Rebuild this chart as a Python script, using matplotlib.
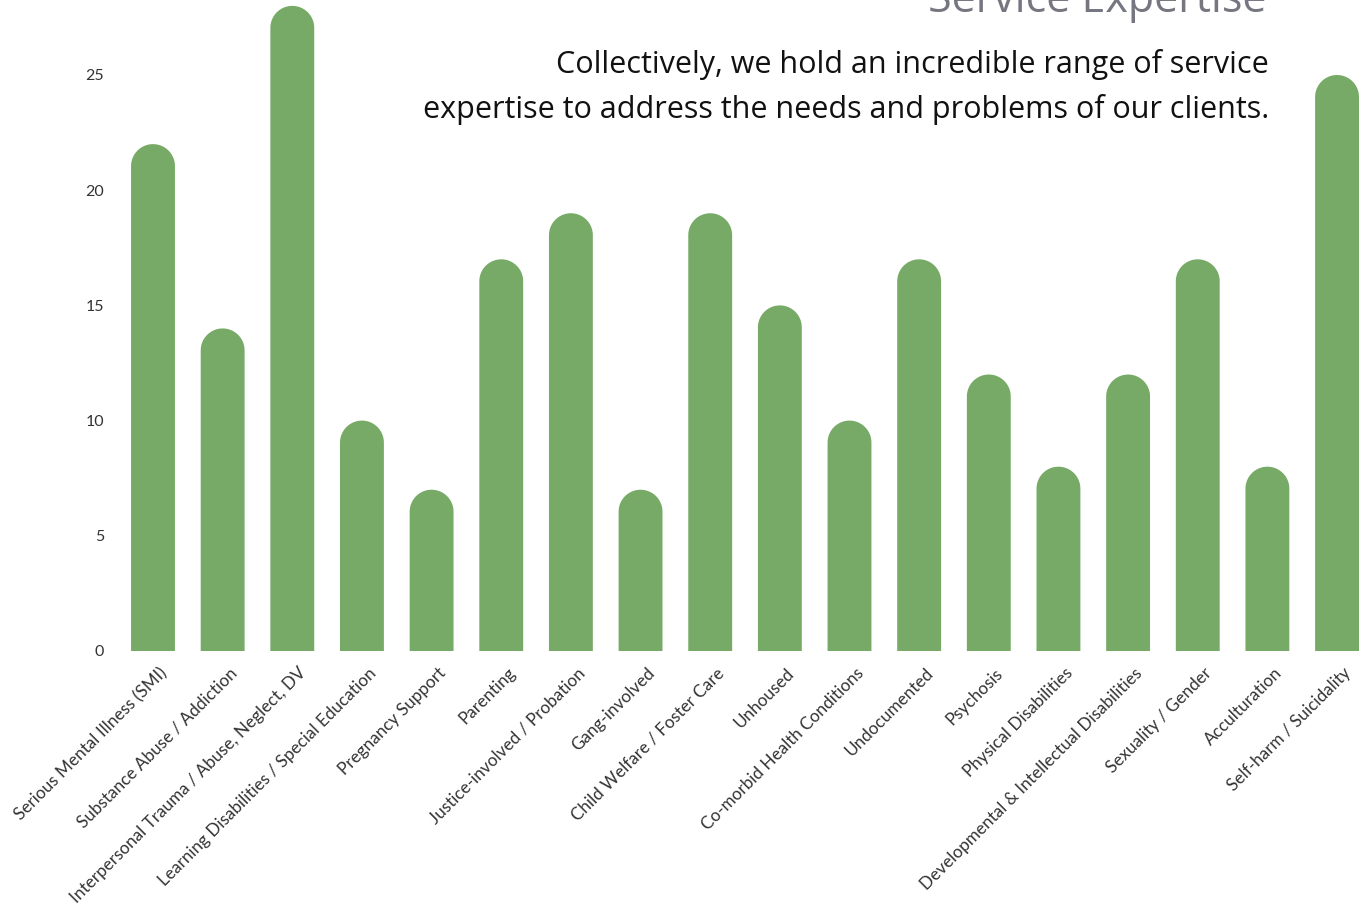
import matplotlib
matplotlib.use("Agg")
import numpy as np
import matplotlib.pyplot as plt
import matplotlib.transforms as mtransforms

# Dados
categorias = [
    "Serious Mental Illness (SMI)", "Substance Abuse / Addiction",
    "Interpersonal Trauma / Abuse, Neglect, DV",
    "Learning Disabilities / Special Education", "Pregnancy Support",
    "Parenting", "Justice-involved / Probation", "Gang-involved",
    "Child Welfare / Foster Care", "Unhoused", "Co-morbid Health Conditions",
    "Undocumented", "Psychosis", "Physical Disabilities",
    "Developmental & Intellectual Disabilities", "Sexuality / Gender",
    "Acculturation", "Self-harm / Suicidality",
]
valores = [22, 14, 28, 10, 7, 17, 19, 7, 19, 15, 10, 17, 12, 8, 12, 17, 8, 25]
yticks = [0, 5, 10, 15, 20, 25]

COR = "#77aa66"
W, H = 1364, 909

fig = plt.figure(figsize=(W / 100, H / 100), dpi=100)
# eixo posicionado em pixels: 0 em y=651, 25 em y=75
px_x = 69.65
px_y = 23.04
ymax = 28.3
x0 = 153 - 0.5 * px_x
ax = fig.add_axes([x0 / W, (H - 651) / H, 18 * px_x / W, ymax * px_y / H])
ax.set_xlim(-0.5, 17.5)
ax.set_ylim(0, ymax)

largura = 0.63
# raio da ponta arredondada em unidades de dados (y)
raio_y = (largura / 2) * px_x / px_y
xs = list(range(len(valores)))

# barras com topo arredondado (um polígono só por barra)
t = np.linspace(0, np.pi, 60)
for x, v in zip(xs, valores):
    cy = v - raio_y
    arco_x = x + (largura / 2) * np.cos(t)
    arco_y = cy + raio_y * np.sin(t)
    px = np.concatenate([[x + largura / 2], arco_x, [x - largura / 2]])
    py = np.concatenate([[0], arco_y, [0]])
    ax.fill(px, py, color=COR, linewidth=0)

for s in ax.spines.values():
    s.set_visible(False)
ax.set_yticks(yticks)
ax.set_yticklabels([str(t) for t in yticks], fontsize=11.5, color="#333333",
                   family="Lato")
ax.tick_params(axis="y", length=0, pad=10)
ax.tick_params(axis="x", length=0, pad=10)
ax.set_xticks(xs)
ax.set_xticklabels(categorias, rotation=45, ha="right", va="top",
                   rotation_mode="anchor", fontsize=12.3, color="#333333",
                   family="Lato")
desloc = mtransforms.ScaledTranslation(6 / 100, 0, fig.dpi_scale_trans)
for lbl in ax.get_xticklabels():
    lbl.set_transform(lbl.get_transform() + desloc)

fig.text(1266 / W, (H - 12) / H, "Service Expertise", ha="right", va="baseline",
         fontsize=31, color="#767681", family="Open Sans")
fig.text(1269 / W, (H - 49) / H,
         "Collectively, we hold an incredible range of service\n"
         "expertise to address the needs and problems of our clients.",
         ha="right", va="top", fontsize=22, color="#111111", family="Open Sans",
         fontweight="medium", linespacing=1.58, multialignment="right")

fig.savefig("out.png", dpi=100)
